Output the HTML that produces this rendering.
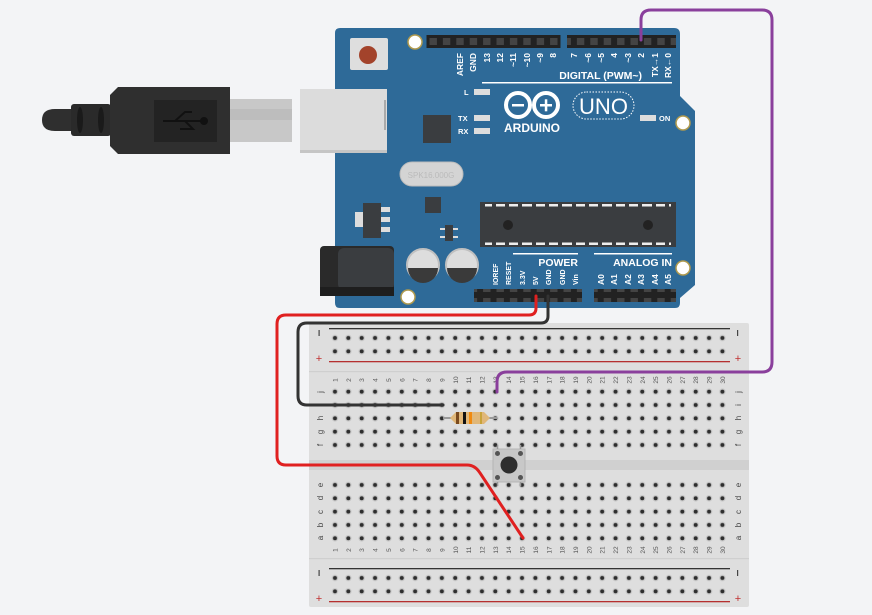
<!DOCTYPE html>
<html><head><meta charset="utf-8"><style>
html,body{margin:0;padding:0;background:#f3f4f6;}
svg{display:block;font-family:"Liberation Sans",sans-serif;}
</style></head><body>
<svg width="872" height="615" viewBox="0 0 872 615" xmlns="http://www.w3.org/2000/svg">
<defs>
<pattern id="pa" x="328.3" y="331.3" width="13.36" height="13.36" patternUnits="userSpaceOnUse"><circle cx="6.68" cy="6.68" r="3.3" fill="#c9c9c9"/><circle cx="6.68" cy="6.68" r="2" fill="#2e2e2e"/></pattern>
<pattern id="pb" x="328.3" y="385" width="13.36" height="13.33" patternUnits="userSpaceOnUse"><circle cx="6.68" cy="6.68" r="3.3" fill="#c9c9c9"/><circle cx="6.68" cy="6.68" r="2" fill="#2e2e2e"/></pattern>
<pattern id="pc" x="328.3" y="478.3" width="13.36" height="13.33" patternUnits="userSpaceOnUse"><circle cx="6.68" cy="6.68" r="3.3" fill="#c9c9c9"/><circle cx="6.68" cy="6.68" r="2" fill="#2e2e2e"/></pattern>
<pattern id="pd" x="328.3" y="571.3" width="13.36" height="13.36" patternUnits="userSpaceOnUse"><circle cx="6.68" cy="6.68" r="3.3" fill="#c9c9c9"/><circle cx="6.68" cy="6.68" r="2" fill="#2e2e2e"/></pattern>
<pattern id="hp" x="426.5" y="35" width="13.4" height="13" patternUnits="userSpaceOnUse"><rect x="0" y="0" width="13.4" height="13" fill="#222"/><rect x="3" y="3" width="7.4" height="7" fill="#444"/></pattern>
</defs>

<!-- USB cable -->
<path d="M55,109 L72,109 L72,131 L55,131 Q42,131 42,120 Q42,109 55,109Z" fill="#2f2f2f"/>
<rect x="71" y="104" width="40" height="32" rx="3" fill="#2a2a2a"/>
<ellipse cx="80" cy="120" rx="3" ry="13" fill="#1a1a1a"/><ellipse cx="101" cy="120" rx="3" ry="13" fill="#1a1a1a"/>
<path d="M118,87 L230,87 L230,154 L118,154 L110,146 L110,95Z" fill="#2f2f2f"/>
<rect x="154" y="100" width="63" height="42" fill="#232323"/>
<path d="M163,121 H205 M175,121 L185,112 H192 M185,121 L193,129 H180" stroke="#111" stroke-width="2" fill="none"/>
<circle cx="204" cy="121" r="4" fill="#111"/>
<rect x="230" y="99" width="62" height="43" fill="#c8c8c8"/>
<rect x="230" y="109" width="62" height="11" fill="#bdbdbd"/>

<!-- Arduino board -->
<path d="M340,28 L674,28 Q680,28 680,34 L680,96 L695,111 L695,285 L680,298 L680,303 Q680,308 675,308 L340,308 Q335,308 335,303 L335,33 Q335,28 340,28Z" fill="#2e6a98"/>
<rect x="300" y="89" width="87" height="64" fill="#dcdcdc"/>
<rect x="300" y="150" width="87" height="3" fill="#c5c5c5"/>
<rect x="384" y="100" width="2" height="30" fill="#aaa"/>
<rect x="350" y="38" width="38" height="32" rx="2" fill="#dedede"/>
<circle cx="368" cy="55" r="9" fill="#a3432b"/>
<g fill="#fff" stroke="#b09a4e" stroke-width="1.5">
<circle cx="415" cy="42" r="7"/><circle cx="683" cy="123" r="7"/><circle cx="683" cy="268" r="7"/><circle cx="408" cy="297" r="7"/></g>
<rect x="426.5" y="35" width="134" height="13" fill="url(#hp)"/>
<rect x="567" y="35" width="109" height="13" fill="url(#hp)"/>
<rect x="474" y="289" width="108" height="13" fill="url(#hp)"/>
<rect x="594" y="289" width="82" height="13" fill="url(#hp)"/>
<g fill="#fff" font-size="8.5" font-weight="bold" text-anchor="end">
<text transform="translate(463,53) rotate(-90)">AREF</text>
<text transform="translate(476,53) rotate(-90)">GND</text>
<text transform="translate(490,53) rotate(-90)">13</text>
<text transform="translate(503,53) rotate(-90)">12</text>
<text transform="translate(516,53) rotate(-90)">~11</text>
<text transform="translate(530,53) rotate(-90)">~10</text>
<text transform="translate(543,53) rotate(-90)">~9</text>
<text transform="translate(556,53) rotate(-90)">8</text>
<text transform="translate(577,53) rotate(-90)">7</text>
<text transform="translate(591,53) rotate(-90)">~6</text>
<text transform="translate(604,53) rotate(-90)">~5</text>
<text transform="translate(617,53) rotate(-90)">4</text>
<text transform="translate(631,53) rotate(-90)">~3</text>
<text transform="translate(644,53) rotate(-90)">2</text>
<text transform="translate(658,53) rotate(-90)">TX→1</text>
<text transform="translate(671,53) rotate(-90)">RX←0</text>
</g>
<text x="642" y="79" fill="#fff" font-size="10.5" font-weight="bold" text-anchor="end">DIGITAL (PWM~)</text>
<rect x="482" y="82" width="190" height="1.5" fill="#fff"/>
<g fill="#ddd"><rect x="474" y="89" width="16" height="6"/><rect x="474" y="115" width="16" height="6"/><rect x="474" y="128" width="16" height="6"/><rect x="640" y="115" width="16" height="6"/></g>
<g fill="#fff" font-size="7.5" font-weight="bold"><text x="464" y="95">L</text><text x="458" y="121">TX</text><text x="458" y="134">RX</text><text x="659" y="121">ON</text></g>
<circle cx="518" cy="105" r="12" fill="none" stroke="#fff" stroke-width="4"/>
<circle cx="546" cy="105" r="12" fill="none" stroke="#fff" stroke-width="4"/>
<rect x="512" y="104" width="12" height="2.5" fill="#fff"/>
<rect x="540" y="104" width="12" height="2.5" fill="#fff"/><rect x="544.8" y="99.3" width="2.5" height="12" fill="#fff"/>
<text x="532" y="132" fill="#fff" font-size="12" font-weight="bold" text-anchor="middle">ARDUINO</text>
<rect x="573" y="92" width="61" height="27" rx="13.5" fill="none" stroke="#fff" stroke-width="1" stroke-dasharray="1.5,1.5"/>
<text x="603.5" y="114" fill="#fff" font-size="22" text-anchor="middle">UNO</text>
<rect x="423" y="115" width="28" height="28" fill="#3a3d40"/>
<rect x="400" y="162" width="63" height="24" rx="12" fill="#d4d4d4" stroke="#bbb"/>
<text x="431" y="178" fill="#bbb" font-size="8" text-anchor="middle">SPK16.000G</text>
<rect x="425" y="197" width="16" height="16" fill="#3a3d40"/>
<rect x="355" y="212" width="10" height="15" fill="#ddd"/>
<rect x="363" y="203" width="18" height="35" fill="#3a3d40"/>
<g fill="#ddd"><rect x="381" y="207" width="9" height="5"/><rect x="381" y="217" width="9" height="5"/><rect x="381" y="227" width="9" height="5"/></g>
<rect x="445" y="225" width="8" height="16" fill="#3a3d40"/>
<g fill="#ddd"><rect x="440" y="228" width="5" height="2"/><rect x="440" y="236" width="5" height="2"/><rect x="453" y="228" width="5" height="2"/><rect x="453" y="236" width="5" height="2"/></g>
<rect x="320" y="246" width="74" height="50" rx="4" fill="#2a2a2a"/>
<rect x="338" y="248" width="56" height="42" rx="6" fill="#3a3d40"/>
<rect x="320" y="287" width="74" height="9" fill="#1e1e1e"/>
<circle cx="423" cy="265" r="16" fill="#ddd" stroke="#c0c0c0" stroke-width="2"/>
<path d="M408,268 L438,268 A15,15 0 0 1 408,268Z" fill="#3a3a3a"/>
<circle cx="462" cy="265" r="16" fill="#ddd" stroke="#c0c0c0" stroke-width="2"/>
<path d="M447,268 L477,268 A15,15 0 0 1 447,268Z" fill="#3a3a3a"/>
<rect x="480" y="202" width="196" height="45" fill="#3a3d40"/>
<g fill="#eee"><rect x="485" y="204" width="186" height="2.5"/><rect x="485" y="242.5" width="186" height="2.5"/></g>
<g fill="#3a3d40"><rect x="492" y="203" width="4" height="4"/><rect x="505" y="203" width="4" height="4"/><rect x="518" y="203" width="4" height="4"/><rect x="532" y="203" width="4" height="4"/><rect x="545" y="203" width="4" height="4"/><rect x="558" y="203" width="4" height="4"/><rect x="572" y="203" width="4" height="4"/><rect x="585" y="203" width="4" height="4"/><rect x="598" y="203" width="4" height="4"/><rect x="612" y="203" width="4" height="4"/><rect x="625" y="203" width="4" height="4"/><rect x="638" y="203" width="4" height="4"/><rect x="652" y="203" width="4" height="4"/><rect x="665" y="203" width="4" height="4"/>
<rect x="492" y="242" width="4" height="4"/><rect x="505" y="242" width="4" height="4"/><rect x="518" y="242" width="4" height="4"/><rect x="532" y="242" width="4" height="4"/><rect x="545" y="242" width="4" height="4"/><rect x="558" y="242" width="4" height="4"/><rect x="572" y="242" width="4" height="4"/><rect x="585" y="242" width="4" height="4"/><rect x="598" y="242" width="4" height="4"/><rect x="612" y="242" width="4" height="4"/><rect x="625" y="242" width="4" height="4"/><rect x="638" y="242" width="4" height="4"/><rect x="652" y="242" width="4" height="4"/><rect x="665" y="242" width="4" height="4"/></g>
<circle cx="508" cy="225" r="5" fill="#222"/><circle cx="648" cy="225" r="5" fill="#222"/>
<rect x="513" y="253" width="65" height="1.5" fill="#fff"/><rect x="594" y="253" width="78" height="1.5" fill="#fff"/>
<text x="578" y="266" fill="#fff" font-size="10.5" font-weight="bold" text-anchor="end">POWER</text>
<text x="672" y="266" fill="#fff" font-size="10.5" font-weight="bold" text-anchor="end">ANALOG IN</text>
<g fill="#fff" font-size="7" font-weight="bold">
<text transform="translate(498,285) rotate(-90)">IOREF</text>
<text transform="translate(511,285) rotate(-90)">RESET</text>
<text transform="translate(525,285) rotate(-90)">3.3V</text>
<text transform="translate(538,285) rotate(-90)">5V</text>
<text transform="translate(551,285) rotate(-90)">GND</text>
<text transform="translate(565,285) rotate(-90)">GND</text>
<text transform="translate(578,285) rotate(-90)">Vin</text>
<g font-size="8.5"><text transform="translate(604,285) rotate(-90)">A0</text>
<text transform="translate(617,285) rotate(-90)">A1</text>
<text transform="translate(631,285) rotate(-90)">A2</text>
<text transform="translate(644,285) rotate(-90)">A3</text>
<text transform="translate(658,285) rotate(-90)">A4</text>
<text transform="translate(671,285) rotate(-90)">A5</text></g>
</g>

<!-- breadboard -->
<rect x="309" y="323" width="440" height="284" rx="2" fill="#dedede"/>
<rect x="309" y="371" width="440" height="1.2" fill="#cfcfcf"/>
<rect x="309" y="558" width="440" height="1.2" fill="#cfcfcf"/>
<rect x="309" y="460" width="440" height="10" fill="#d0d0d0"/>
<rect x="329" y="328" width="401" height="1.3" fill="#333"/>
<rect x="329" y="361" width="401" height="1.3" fill="#b53030"/>
<rect x="329" y="568" width="401" height="1.3" fill="#333"/>
<rect x="329" y="601" width="401" height="1.3" fill="#b53030"/>
<g fill="#444"><rect x="318.5" y="330" width="1.2" height="6"/><rect x="737" y="330" width="1.2" height="6"/><rect x="318.5" y="570" width="1.2" height="6"/><rect x="737" y="570" width="1.2" height="6"/></g>
<g font-size="11" text-anchor="middle" fill="#c03030"><text x="319" y="362">+</text><text x="738" y="362">+</text><text x="319" y="602">+</text><text x="738" y="602">+</text></g>
<rect x="328.3" y="331.3" width="400.8" height="26.7" fill="url(#pa)"/>
<rect x="328.3" y="385" width="400.8" height="66.6" fill="url(#pb)"/>
<rect x="328.3" y="478.3" width="400.8" height="66.6" fill="url(#pc)"/>
<rect x="328.3" y="571.3" width="400.8" height="26.7" fill="url(#pd)"/>
<g fill="#444" font-size="8" text-anchor="middle">
<text transform="translate(323,392) rotate(-90)">j</text><text transform="translate(323,405) rotate(-90)">i</text><text transform="translate(323,418) rotate(-90)">h</text><text transform="translate(323,432) rotate(-90)">g</text><text transform="translate(323,445) rotate(-90)">f</text>
<text transform="translate(323,485) rotate(-90)">e</text><text transform="translate(323,498) rotate(-90)">d</text><text transform="translate(323,512) rotate(-90)">c</text><text transform="translate(323,525) rotate(-90)">b</text><text transform="translate(323,538) rotate(-90)">a</text>
<text transform="translate(741,392) rotate(-90)">j</text><text transform="translate(741,405) rotate(-90)">i</text><text transform="translate(741,418) rotate(-90)">h</text><text transform="translate(741,432) rotate(-90)">g</text><text transform="translate(741,445) rotate(-90)">f</text>
<text transform="translate(741,485) rotate(-90)">e</text><text transform="translate(741,498) rotate(-90)">d</text><text transform="translate(741,512) rotate(-90)">c</text><text transform="translate(741,525) rotate(-90)">b</text><text transform="translate(741,538) rotate(-90)">a</text>
</g>
<g fill="#555" font-size="6.5" text-anchor="middle">
<text transform="translate(337.5,380) rotate(-90)">1</text><text transform="translate(350.9,380) rotate(-90)">2</text><text transform="translate(364.2,380) rotate(-90)">3</text><text transform="translate(377.6,380) rotate(-90)">4</text><text transform="translate(391,380) rotate(-90)">5</text><text transform="translate(404.3,380) rotate(-90)">6</text><text transform="translate(417.7,380) rotate(-90)">7</text><text transform="translate(431,380) rotate(-90)">8</text><text transform="translate(444.4,380) rotate(-90)">9</text><text transform="translate(457.8,380) rotate(-90)">10</text><text transform="translate(471.1,380) rotate(-90)">11</text><text transform="translate(484.5,380) rotate(-90)">12</text><text transform="translate(497.8,380) rotate(-90)">13</text><text transform="translate(511.2,380) rotate(-90)">14</text><text transform="translate(524.6,380) rotate(-90)">15</text><text transform="translate(537.9,380) rotate(-90)">16</text><text transform="translate(551.3,380) rotate(-90)">17</text><text transform="translate(564.6,380) rotate(-90)">18</text><text transform="translate(578,380) rotate(-90)">19</text><text transform="translate(591.4,380) rotate(-90)">20</text><text transform="translate(604.7,380) rotate(-90)">21</text><text transform="translate(618.1,380) rotate(-90)">22</text><text transform="translate(631.4,380) rotate(-90)">23</text><text transform="translate(644.8,380) rotate(-90)">24</text><text transform="translate(658.2,380) rotate(-90)">25</text><text transform="translate(671.5,380) rotate(-90)">26</text><text transform="translate(684.9,380) rotate(-90)">27</text><text transform="translate(698.2,380) rotate(-90)">28</text><text transform="translate(711.6,380) rotate(-90)">29</text><text transform="translate(725,380) rotate(-90)">30</text>
<text transform="translate(337.5,550) rotate(-90)">1</text><text transform="translate(350.9,550) rotate(-90)">2</text><text transform="translate(364.2,550) rotate(-90)">3</text><text transform="translate(377.6,550) rotate(-90)">4</text><text transform="translate(391,550) rotate(-90)">5</text><text transform="translate(404.3,550) rotate(-90)">6</text><text transform="translate(417.7,550) rotate(-90)">7</text><text transform="translate(431,550) rotate(-90)">8</text><text transform="translate(444.4,550) rotate(-90)">9</text><text transform="translate(457.8,550) rotate(-90)">10</text><text transform="translate(471.1,550) rotate(-90)">11</text><text transform="translate(484.5,550) rotate(-90)">12</text><text transform="translate(497.8,550) rotate(-90)">13</text><text transform="translate(511.2,550) rotate(-90)">14</text><text transform="translate(524.6,550) rotate(-90)">15</text><text transform="translate(537.9,550) rotate(-90)">16</text><text transform="translate(551.3,550) rotate(-90)">17</text><text transform="translate(564.6,550) rotate(-90)">18</text><text transform="translate(578,550) rotate(-90)">19</text><text transform="translate(591.4,550) rotate(-90)">20</text><text transform="translate(604.7,550) rotate(-90)">21</text><text transform="translate(618.1,550) rotate(-90)">22</text><text transform="translate(631.4,550) rotate(-90)">23</text><text transform="translate(644.8,550) rotate(-90)">24</text><text transform="translate(658.2,550) rotate(-90)">25</text><text transform="translate(671.5,550) rotate(-90)">26</text><text transform="translate(684.9,550) rotate(-90)">27</text><text transform="translate(698.2,550) rotate(-90)">28</text><text transform="translate(711.6,550) rotate(-90)">29</text><text transform="translate(725,550) rotate(-90)">30</text>
</g>

<rect x="493" y="449" width="32" height="33" fill="#c8c8c8" stroke="#b5b5b5"/>
<g fill="#555"><circle cx="497.5" cy="453.5" r="2.5"/><circle cx="520.5" cy="453.5" r="2.5"/><circle cx="497.5" cy="477.5" r="2.5"/><circle cx="520.5" cy="477.5" r="2.5"/></g>
<circle cx="509" cy="465" r="8.5" fill="#2e2e2e"/>
<g stroke="#999" stroke-width="1.5"><line x1="497.5" y1="445" x2="497.5" y2="449"/><line x1="520.5" y1="445" x2="520.5" y2="449"/><line x1="497.5" y1="482" x2="497.5" y2="486"/><line x1="520.5" y1="482" x2="520.5" y2="486"/></g>

<line x1="443" y1="418" x2="497" y2="418" stroke="#999" stroke-width="2"/>
<path d="M450,418 L456,412 L484,412 L490,418 L484,424 L456,424Z" fill="#e0b779"/>
<rect x="456" y="412" width="3" height="12" fill="#7a4a1e"/>
<rect x="463" y="412" width="3" height="12" fill="#111"/>
<rect x="469" y="412" width="3" height="12" fill="#f08a10"/>
<rect x="480" y="412" width="2" height="12" fill="#c9a33a"/>

<g fill="none" stroke-linecap="round" stroke-width="3">
<path d="M641,40 L641,20 Q641,10 651,10 L762,10 Q772,10 772,20 L772,362 Q772,372 762,372 L507,372 Q497,372 497,382 L497,392" stroke="#8a3f9c"/>
<path d="M536,296 L536,308 Q536,315 529,315 L286,315 Q277,315 277,324 L277,456 Q277,465 286,465 L467,465 Q475,465 480,473 L523,538" stroke="#e02020"/>
<path d="M548,296 L548,316 Q548,323 541,323 L307,323 Q298,323 298,332 L298,396 Q298,405 307,405 L443,405" stroke="#333"/>
</g>
</svg>
</body></html>
